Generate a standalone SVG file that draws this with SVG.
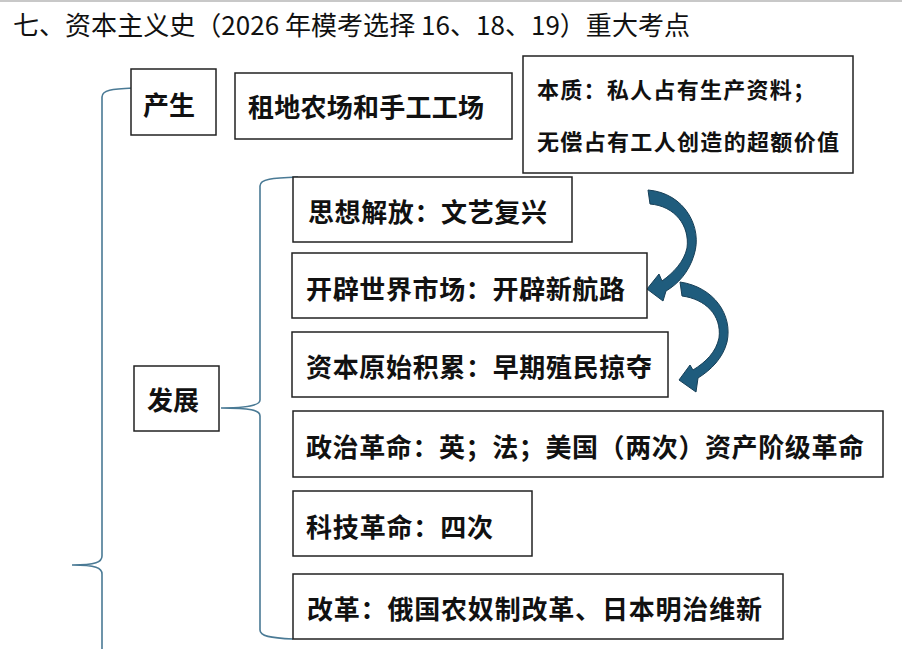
<svg xmlns="http://www.w3.org/2000/svg" width="902" height="649" viewBox="0 0 902 649">
<style>
.box{fill:#fff;stroke:#222;stroke-width:1.5}
.t{font-family:"Noto Sans CJK SC","Noto Sans",sans-serif;font-size:26px;font-weight:bold;fill:#111;dominant-baseline:central}
.s{font-size:22px}
.title{font-family:"Noto Sans CJK SC","Noto Sans",sans-serif;font-size:26px;fill:#111;dominant-baseline:central}
.brace{fill:none;stroke:#4a7a95;stroke-width:1.6}
.arr{fill:#1f5c7d;stroke:#173f57;stroke-width:1}
</style>
<rect x="0" y="0" width="902" height="649" fill="#fff"/>
<line x1="0" y1="1" x2="902" y2="1" stroke="#c8c8c8" stroke-width="2"/>
<text class="title" x="13" y="23" textLength="677" lengthAdjust="spacing">七、资本主义史（2026 年模考选择 16、18、19）重大考点</text>

<g id="connectors">
<path class="brace" d="M133,88 C112,89 102,90 102,97 L102,556 C102,562 96,565 72,565 C96,565 102,568 102,574 L102,649"/>
<path class="brace" d="M298,177 C272,178 260,179 260,186 L260,400 C260,405 250,408 221,408 C250,408 260,410 260,416 L260,630 C260,636 270,638 293,639"/>
<path class="arr" d="M648,190 C685,193 703,228 694,255 C689,272 678,284 666,291 L663,301 L647,289 L659,274 L662,281 C673,273 684,262 687,248 C690,226 675,206 650,204 Z"/>
<path class="arr" d="M680,282 C714,287 733,315 727,342 C723,358 711,370 698,378 L696,392 L679,380 L690,365 L693,370 C706,362 716,352 719,338 C722,315 705,299 682,296 Z"/>
</g>

<g id="n-chansheng"><rect class="box" x="131" y="69" width="85" height="66"/><text class="t" x="143" y="103" textLength="52">产生</text></g>
<g id="n-zudi"><rect class="box" x="235" y="73" width="277" height="66"/><text class="t" x="248" y="105" textLength="236">租地农场和手工工场</text></g>
<g id="n-benzhi"><rect class="box" x="523" y="56" width="330" height="117"/>
<text class="t s" x="537" y="88" textLength="278">本质：私人占有生产资料；</text>
<text class="t s" x="537" y="140" textLength="302">无偿占有工人创造的超额价值</text></g>
<g id="n-fazhan"><rect class="box" x="134" y="366" width="85" height="65"/><text class="t" x="147" y="398" textLength="52">发展</text></g>
<g id="n-sixiang"><rect class="box" x="293" y="177" width="279" height="65"/><text class="t" x="308" y="210" textLength="239">思想解放：文艺复兴</text></g>
<g id="n-kaipi"><rect class="box" x="292" y="253" width="355" height="65"/><text class="t" x="306" y="287" textLength="319">开辟世界市场：开辟新航路</text></g>
<g id="n-ziben"><rect class="box" x="292" y="332" width="376" height="65"/><text class="t" x="306" y="365" textLength="346">资本原始积累：早期殖民掠夺</text></g>
<g id="n-zhengzhi"><rect class="box" x="293" y="411" width="590" height="66"/><text class="t" x="306" y="445" textLength="558">政治革命：英；法；美国（两次）资产阶级革命</text></g>
<g id="n-keji"><rect class="box" x="293" y="491" width="239" height="65"/><text class="t" x="306" y="525" textLength="187">科技革命：四次</text></g>
<g id="n-gaige"><rect class="box" x="293" y="574" width="490" height="65"/><text class="t" x="307" y="607" textLength="455">改革：俄国农奴制改革、日本明治维新</text></g>
</svg>
